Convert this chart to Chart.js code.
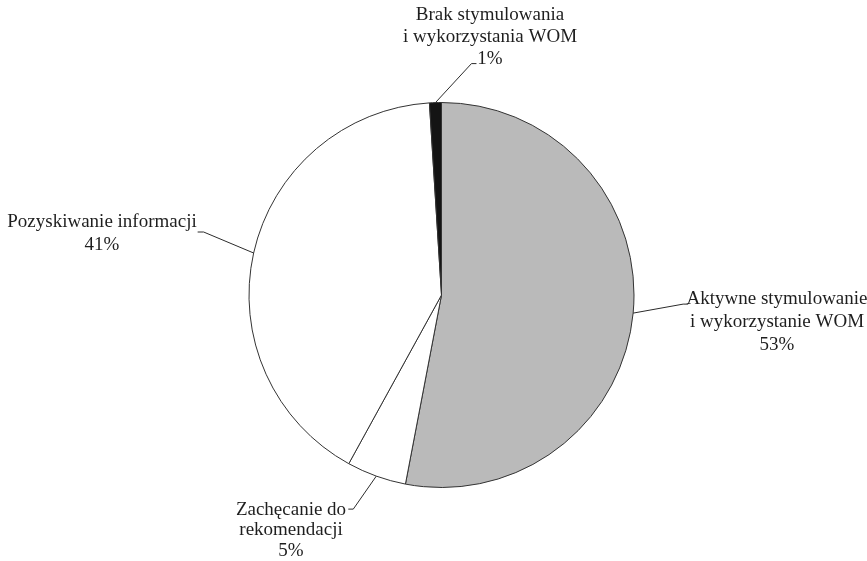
<!DOCTYPE html>
<html>
<head>
<meta charset="utf-8">
<script src="https://cdn.jsdelivr.net/npm/chart.js@4"></script>
<style>
html,body{margin:0;padding:0;background:#fff;}
#wrap{width:867px;height:561px;position:relative;}
</style>
</head>
<body>
<div id="wrap"><canvas id="c" width="867" height="561"></canvas></div>
<script>
const categories = ["Aktywne stymulowanie\ni wykorzystanie WOM", "Zachęcanie do\nrekomendacji", "Pozyskiwanie informacji", "Brak stymulowania\ni wykorzystania WOM"];
const shares = [53, 5, 41, 1];
const colors = ["#bababa", "#ffffff", "#ffffff", "#141414"];

// label layout: elbow offset from slice edge, leader tail, text anchor, line spacing
const labelLayout = [
  {elbow:[50,-9], tail:5, text:[777,299], gap:23},
  {elbow:[-23,33], tail:-5, text:[291,510], gap:20.5},
  {elbow:[-50,-21], tail:-6, text:[102,222], gap:23},
  {elbow:[36,-39], tail:5, text:[490,15], gap:22}
];

const labelPlugin = {
  id: 'pieLabels',
  afterDatasetsDraw(chart) {
    const ctx = chart.ctx;
    const meta = chart.getDatasetMeta(0);
    ctx.save();
    ctx.strokeStyle = "#2b2b2b";
    ctx.lineWidth = 1;
    ctx.fillStyle = "#1e1e1e";
    ctx.font = "19px 'Liberation Serif', 'Times New Roman', serif";
    ctx.textAlign = "center";
    ctx.textBaseline = "middle";
    meta.data.forEach((arc, i) => {
      const p = arc.getProps(['x','y','startAngle','endAngle','outerRadius'], true);
      const mid = (p.startAngle + p.endAngle) / 2;
      const sx = p.x + Math.cos(mid) * p.outerRadius;
      const sy = p.y + Math.sin(mid) * p.outerRadius;
      const L = labelLayout[i];
      const ex = sx + L.elbow[0], ey = sy + L.elbow[1];
      ctx.beginPath();
      ctx.moveTo(sx, sy);
      ctx.lineTo(ex, ey);
      ctx.lineTo(ex + L.tail, ey);
      ctx.stroke();
      const lines = categories[i].split("\n").concat([shares[i] + "%"]);
      lines.forEach((t, k) => {
        ctx.fillText(t, L.text[0], L.text[1] + k * L.gap);
      });
    });
    ctx.restore();
  }
};

new Chart(document.getElementById('c'), {
  type: 'pie',
  data: {
    labels: categories,
    datasets: [{
      data: shares,
      backgroundColor: colors,
      borderColor: "#333333",
      borderWidth: 1
    }]
  },
  options: {
    responsive: false,
    animation: false,
    layout: {padding: {top: 102, bottom: 73, left: 248, right: 232}},
    plugins: {legend: {display: false}, tooltip: {enabled: false}}
  },
  plugins: [labelPlugin]
});
</script>
</body>
</html>
